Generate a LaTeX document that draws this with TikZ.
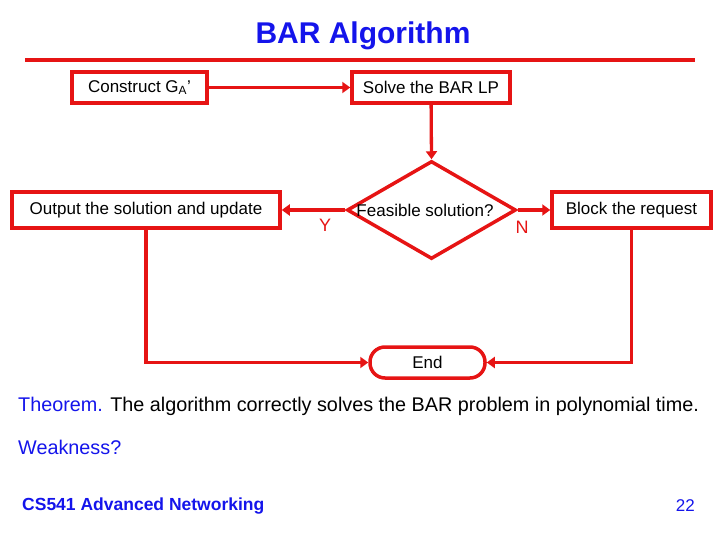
\documentclass[tikz,border=0pt]{standalone}
\usepackage{fontspec}
\setmainfont{Liberation Sans}
\usetikzlibrary{shapes.geometric,arrows.meta}
\definecolor{rd}{RGB}{230,20,20}
\definecolor{bl}{RGB}{20,20,235}
\begin{document}
\begin{tikzpicture}[x=1pt,y=-1pt,
  box/.style={draw=rd,line width=3.5pt,inner sep=0pt,font=\fontsize{17}{17}\selectfont},
  arr/.style={draw=rd,line width=3.3pt,-{Triangle[length=8pt,width=11pt]}},
  lbl/.style={text=rd,font=\fontsize{18}{18}\selectfont}]
\useasboundingbox (0,0) rectangle (720,540);
\node[text=bl,font=\bfseries\fontsize{30}{30}\selectfont] (title) at (363,36) {BAR Algorithm};
\draw[rd,line width=4.5pt] (25,60) coordinate (l1) -- (695,60) coordinate (l2);
\node[box,minimum width=135pt,minimum height=31pt] (con) at (139.5,87.5) {Construct G\textsubscript{A}’};
\node[box,minimum width=158pt,minimum height=31pt] (lp) at (431,87.5) {Solve the BAR LP};
\node[draw=rd,line width=3.5pt,diamond,aspect=1.73,minimum width=169pt,minimum height=98pt,inner sep=0pt] (fs) at (431.5,210) {};
\node[font=\fontsize{17}{17}\selectfont] at (425,210) {Feasible solution?};
\node[box,minimum width=268pt,minimum height=36pt] (out) at (146,210) {Output the solution and update};
\node[box,minimum width=159pt,minimum height=36pt] (blk) at (631.5,210) {Block the request};
\node[draw=rd,line width=3.5pt,rounded corners=15pt,minimum width=115pt,minimum height=31pt,inner sep=0pt,font=\fontsize{17}{17}\selectfont] (end) at (427.5,362.5) {End};
\draw[arr] (con) -- (lp);
\draw[arr] (lp) -- (fs.north);
\draw[arr] (fs.west) -- (out);
\draw[arr] (fs.east) -- (blk);
\draw[arr] (out.south) |- (end.west);
\draw[arr] (blk.south) |- (end.east);
\node[lbl] (y) at (325,225) {Y};
\node[lbl] (n) at (522,227) {N};
\node[anchor=west,font=\fontsize{19.8}{19.8}\selectfont,inner sep=0pt] (th) at (18,406) {\textcolor{bl}{Theorem.} The algorithm correctly solves the BAR problem in polynomial time.};
\node[anchor=west,text=bl,font=\fontsize{19.8}{19.8}\selectfont,inner sep=0pt] (wk) at (18,447) {Weakness?};
\node[anchor=west,text=bl,font=\bfseries\fontsize{17.5}{17.5}\selectfont,inner sep=0pt] (ft) at (22,506) {CS541 Advanced Networking};
\node[anchor=east,text=bl,font=\fontsize{17}{17}\selectfont,inner sep=0pt] (pg) at (695,506) {22};
\end{tikzpicture}
\end{document}
